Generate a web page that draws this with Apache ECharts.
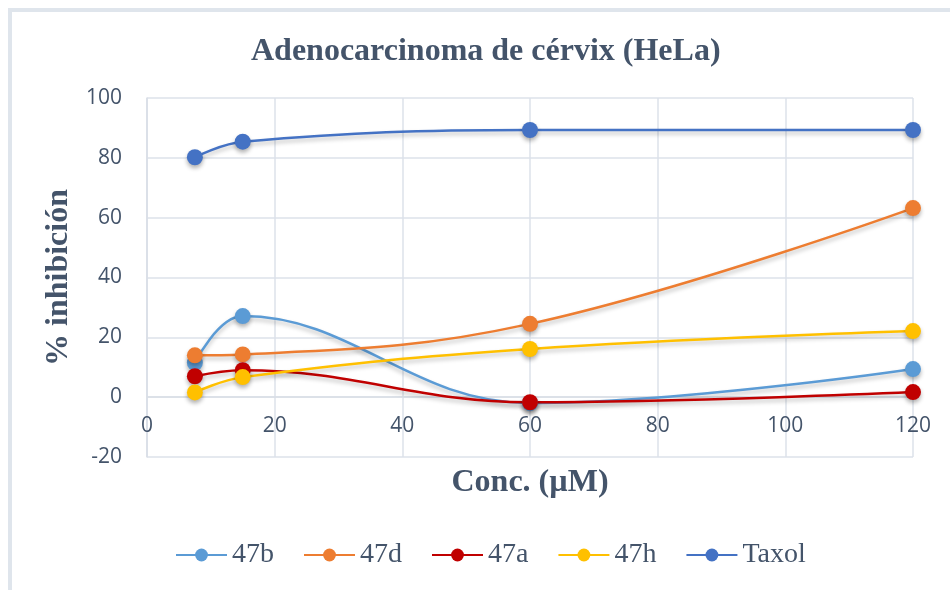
<!DOCTYPE html>
<html><head><meta charset="utf-8">
<script src="https://cdn.jsdelivr.net/npm/echarts@6/dist/echarts.min.js"></script>
<style>html,body{margin:0;padding:0;background:#fff}#c{width:950px;height:590px}</style>
</head><body><div id="c"></div>
<script>
const xValues = [7.5, 15, 60, 120];
const s47b = [11.5, 27.1, -2.0, 9.4];
const s47d = [14.0, 14.3, 24.5, 63.2];
const s47a = [7.0, 9.0, -1.7, 1.7];
const s47h = [1.6, 6.7, 16.1, 22.1];
const sTaxol = [80.2, 85.4, 89.3, 89.3];
const seriesNames = ['47b', '47d', '47a', '47h', 'Taxol'];
const seriesColors = ['#5b9bd5', '#ed7d31', '#c00000', '#ffc000', '#4472c4'];
const seriesData = [s47b, s47d, s47a, s47h, sTaxol];

const yMin = -20, yMax = 100;
const gridTop = 98, gridBottom = 133, H = 590;
const plotH = H - gridTop - gridBottom;
// shift the x axis up to the y=0 line
const zeroOffset = -plotH * (0 - yMin) / (yMax - yMin);

const chart = echarts.init(document.getElementById('c'));
const txt = '#44546a';
chart.setOption({
  animation: false,
  title: {
    text: 'Adenocarcinoma de cérvix (HeLa)',
    left: 246, top: 31,
    textStyle: { fontFamily: 'Liberation Serif', fontWeight: 'bold', fontSize: 32, color: txt }
  },
  graphic: [{
    type: 'rect', shape: { x: 10, y: 10, width: 960, height: 600 },
    style: { fill: 'none', stroke: '#dfe5ec', lineWidth: 4 }, silent: true, z: -10
  }],
  legend: {
    top: 536, left: 170, itemGap: 29, itemWidth: 51, itemHeight: 16,
    data: seriesNames,
    textStyle: { fontFamily: 'Liberation Serif', fontSize: 28, color: txt }
  },
  grid: { left: 147, right: 37, top: gridTop, bottom: gridBottom },
  xAxis: {
    type: 'value', min: 0, max: 120, interval: 20,
    offset: zeroOffset,
    name: 'Conc. (µM)', nameLocation: 'middle', nameGap: 70,
    nameTextStyle: { fontFamily: 'Liberation Serif', fontWeight: 'bold', fontSize: 32, color: txt },
    axisLine: { onZero: false, lineStyle: { color: '#d9dee6', width: 1.5 } },
    axisTick: { show: false },
    axisLabel: { fontFamily: 'Open Sans', fontSize: 21, color: txt, margin: 18 },
    splitLine: { lineStyle: { color: '#dde2ea', width: 1.5 } }
  },
  yAxis: {
    type: 'value', min: yMin, max: yMax, interval: 20,
    name: '% inhibición', nameLocation: 'middle', nameGap: 63,
    nameTextStyle: { fontFamily: 'Liberation Serif', fontWeight: 'bold', fontSize: 32, color: txt },
    axisLine: { show: true, onZero: false, lineStyle: { color: '#d9dee6', width: 1.5 } },
    axisTick: { show: false },
    axisLabel: { fontFamily: 'Open Sans', fontSize: 21, color: txt, margin: 25 },
    splitLine: { lineStyle: { color: '#dde2ea', width: 1.5 } }
  },
  series: seriesNames.map((n, i) => ({
    name: n, type: 'line', smooth: 0.4,
    data: xValues.map((x, j) => [x, seriesData[i][j]]),
    symbol: 'circle', symbolSize: 16,
    color: seriesColors[i],
    lineStyle: { width: 2.5, color: seriesColors[i], shadowColor: 'rgba(0,0,0,0.25)', shadowBlur: 4, shadowOffsetY: 3 },
    itemStyle: { color: seriesColors[i], shadowColor: 'rgba(0,0,0,0.3)', shadowBlur: 4, shadowOffsetY: 3 }
  }))
});
</script></body></html>
